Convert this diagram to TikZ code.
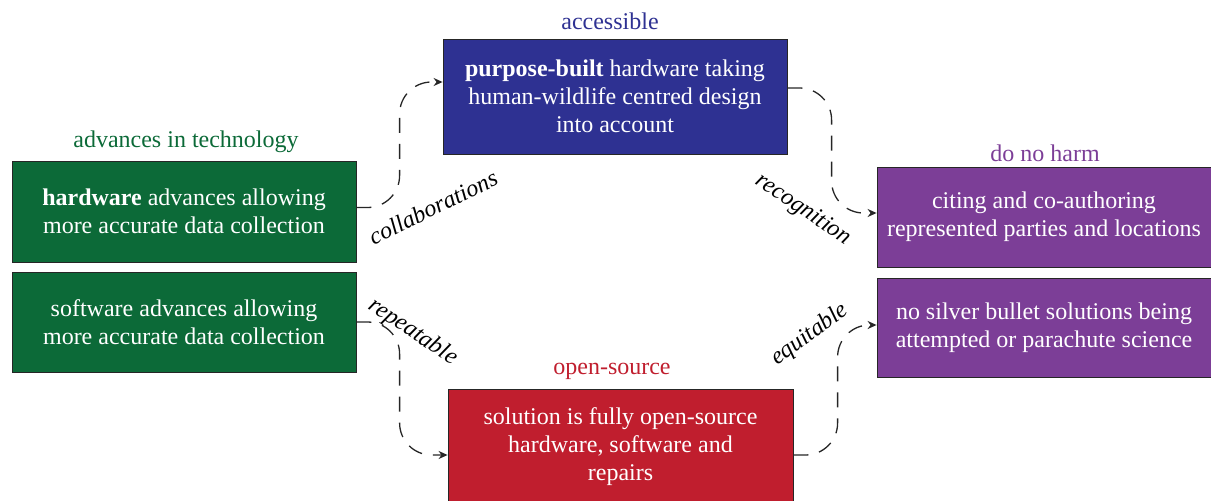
\documentclass[tikz,border=0pt]{standalone}
\usepackage{fontspec}
\setmainfont{Liberation Serif}
\usetikzlibrary{arrows.meta}
\definecolor{cgreen}{RGB}{12,106,56}
\definecolor{cblue}{RGB}{46,49,146}
\definecolor{cpurple}{RGB}{124,62,151}
\definecolor{cred}{RGB}{192,30,46}
\begin{document}
\begin{tikzpicture}[x=1pt,y=-1pt,
  box/.style={draw=black!85, line width=0.8pt, text=white, align=center, inner sep=0pt,
    font=\fontsize{24}{28}\selectfont},
  head/.style={font=\fontsize{24}{28}\selectfont, inner sep=0pt},
  conn/.style={draw=black!85, line width=1.3pt, dash pattern=on 15pt off 11pt, rounded corners=32pt,
    -{Stealth[length=9pt,width=8pt]}},
  lbl/.style={font=\itshape\fontsize{24}{28}\selectfont, inner sep=0pt}]
\useasboundingbox (0,0) rectangle (1211,501);
\clip (0,0) rectangle (1211,501);
\node[box, fill=cgreen, minimum width=344pt, minimum height=101pt] (g1) at (184,211.5)
  {\textbf{hardware} advances allowing\\more accurate data collection};
\node[box, fill=cgreen, minimum width=344pt, minimum height=100pt] (g2) at (184,322)
  {software advances allowing\\more accurate data collection};
\node[box, fill=cblue, minimum width=344pt, minimum height=115pt] (b) at (615,96.5)
  {\textbf{purpose-built} hardware taking\\human-wildlife centred design\\into account};
\node[box, fill=cpurple, minimum width=334pt, minimum height=100pt] (p1) at (1044,217)
  {citing and co-authoring\\represented parties and locations};
\node[box, fill=cpurple, minimum width=334pt, minimum height=99pt] (p2) at (1044,327.5)
  {no silver bullet solutions being\\attempted or parachute science};
\node[box, fill=cred, minimum width=345pt, minimum height=115pt] (r) at (620.5,447)
  {solution is fully open-source\\hardware, software and\\repairs};
\node[head, text=cgreen] (hg) at (186,142) {advances in technology};
\node[head, text=cblue] (hb) at (610,21) {accessible};
\node[head, text=cpurple] (hp) at (1045,153) {do no harm};
\node[head, text=cred] (hr) at (612,371) {open-source};
\draw[conn] ([yshift=4pt]g1.east) -| ([xshift=-43pt,yshift=14.5pt]b.west) -- ([yshift=14.5pt]b.west);
\draw[conn] ([yshift=8.5pt]b.east) -| ([xshift=-45pt,yshift=4pt]p1.west) -- ([yshift=4pt]p1.west);
\draw[conn] (g2.east) -| ([xshift=-48pt,yshift=-8pt]r.west) -- ([yshift=-8pt]r.west);
\draw[conn] ([yshift=-8pt]r.east) -| ([xshift=-39pt,yshift=2.5pt]p2.west) -- ([yshift=2.5pt]p2.west);
\node[lbl, rotate=26] (l1) at (433,207) {collaborations};
\node[lbl, rotate=-34] (l2) at (803,210) {recognition};
\node[lbl, rotate=-34] (l3) at (413,332) {repeatable};
\node[lbl, rotate=36] (l4) at (810,335) {equitable};
\end{tikzpicture}
\end{document}
